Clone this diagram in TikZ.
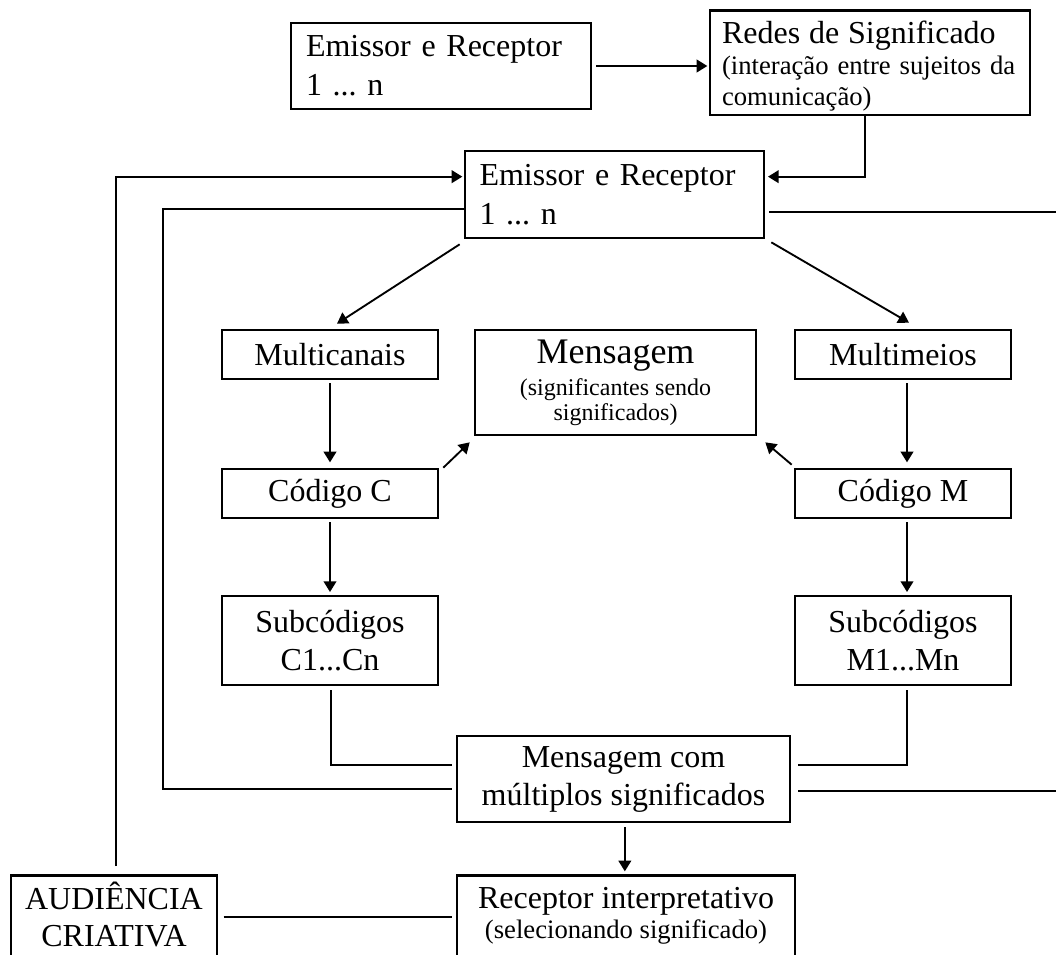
\documentclass[tikz,border=0pt]{standalone}
\usepackage{fontspec}
\setmainfont{Liberation Serif}
\frenchspacing
\usetikzlibrary{arrows.meta,calc}
\begin{document}
\begin{tikzpicture}[x=0.75pt,y=-0.75pt,
  box/.style={draw,line width=2pt,inner sep=0pt,font=\fontsize{24}{28.5}\selectfont},
  ln/.style={line width=1.4pt},
  arr/.style={ln,-{Triangle[length=8pt,width=9.5pt]}}]
\useasboundingbox (0,0) rectangle (1056,955);
\clip (0,0) rectangle (1056,955);
% nodes
\node[box,font=\fontsize{24}{29.25}\selectfont,minimum width=225pt,minimum height=64.5pt,text width=202.5pt,align=left] (box1) at (441,66) {Emissor e Receptor\\1 ... n};
\node[box,anchor=north,font=\fontsize{20}{23}\selectfont,minimum width=240pt,inner ysep=8.25pt,text depth=45pt,text width=222pt,align=left] (redes) at (870,9) {{\fontsize{24}{23}\selectfont Redes de Significado}\\(interação entre sujeitos da\\comunicação)};
\node[box,font=\fontsize{24}{29.25}\selectfont,minimum width=224.25pt,minimum height=65.25pt,text width=202.5pt,align=left] (er2) at (614.5,194.5) {Emissor e Receptor\\1 ... n};
\node[box,minimum width=162pt,minimum height=36.75pt] (mc) at (330,354.5) {Multicanais};
\node[box,minimum width=210.75pt,minimum height=78.75pt,align=center,font=\fontsize{18}{18.5}\selectfont] (msg) at (615.5,382.5) {{\fontsize{27}{30}\selectfont Mensagem}\\[5pt](significantes sendo\\significados)};
\node[box,minimum width=162pt,minimum height=36.75pt] (mm) at (903,354.5) {Multimeios};
\node[box,minimum width=162pt,minimum height=36.75pt] (cc) at (330,493.5) {Código C};
\node[box,minimum width=162pt,minimum height=36.75pt] (cm) at (903,493.5) {Código M};
\node[box,minimum width=162pt,minimum height=66.75pt,align=center] (sc) at (330,640.5) {Subcódigos\\C1...Cn};
\node[box,minimum width=162pt,minimum height=66.75pt,align=center] (sm) at (903,640.5) {Subcódigos\\M1...Mn};
\node[box,minimum width=249.75pt,minimum height=64.5pt,align=center] (mcs) at (623.5,779) {Mensagem com\\múltiplos significados};
\node[box,anchor=north,minimum width=253.5pt,inner ysep=9pt,align=center,font=\fontsize{24}{22.5}\selectfont,text depth=100pt] (rec) at (626,874) {Receptor interpretativo\\{\fontsize{20}{22.5}\selectfont (selecionando significado)}};
\node[box,anchor=north,minimum width=154.5pt,inner ysep=5pt,align=center,font=\fontsize{24}{27.75}\selectfont,text depth=100pt] (aud) at (114,874) {AUDIÊNCIA\\CRIATIVA};
\coordinate (eR1) at ($(er2.north east)+(300,62)$);
\coordinate (eR2) at ($(mcs.north east)+(275,56)$);
% connectors
\draw[arr,shorten <=3pt,shorten >=1pt] (box1.east) -- (box1.east -| redes.west);
\draw[arr,shorten >=2pt] ([xshift=-3.75pt]redes.south) |- ($(er2.north east)+(0,27)$);
\draw[arr,shorten <=6pt,shorten >=1pt] ([xshift=1.5pt]aud.north) |- ($(er2.north west)+(0,27)$);
\draw[ln,shorten >=3pt] ($(er2.north west)+(0,59)$) -- ++(-301,0) |- ($(mcs.north west)+(0,54)$);
\draw[ln,shorten <=3pt] ($(er2.north east)+(0,62)$) -- (eR1);
\draw[ln,shorten <=5pt] ($(mcs.north east)+(0,56)$) -- (eR2);
\draw[arr] ($(er2.south west)+(-4,5)$) -- ($(mc.north)+(7,-5)$);
\draw[arr] ($(er2.south east)+(6,3)$) -- ($(mm.north)+(6,-6)$);
\draw[arr,shorten <=2pt,shorten >=4pt] (mc.south) -- (cc.north);
\draw[arr,shorten <=2pt,shorten >=2pt] (cc.south) -- (sc.north);
\draw[arr,shorten <=2pt,shorten >=4pt] ([xshift=3pt]mm.south) -- ([xshift=3pt]cm.north);
\draw[arr,shorten <=2pt,shorten >=2pt] ([xshift=3pt]cm.south) -- ([xshift=3pt]sm.north);
\draw[arr] ($(cc.north east)+(4,0)$) -- ($(msg.south west)+(-4,6)$);
\draw[arr] ($(cm.north west)+(-2,-3)$) -- ($(msg.south east)+(8,6)$);
\draw[ln,shorten <=3pt,shorten >=3pt] ([xshift=0.75pt]sc.south) |- ($(mcs.north west)+(0,30)$);
\draw[ln,shorten <=3pt,shorten >=5pt] ([xshift=3pt]sm.south) |- ($(mcs.north east)+(0,30)$);
\draw[arr,shorten <=3pt,shorten >=2pt] ([xshift=1pt]mcs.south) -- ([xshift=1pt]mcs.south |- rec.north);
\draw[ln,shorten <=4pt,shorten >=3pt] ($(aud.north east)+(0,43)$) -- ($(rec.north west)+(0,43)$);
\end{tikzpicture}
\end{document}
